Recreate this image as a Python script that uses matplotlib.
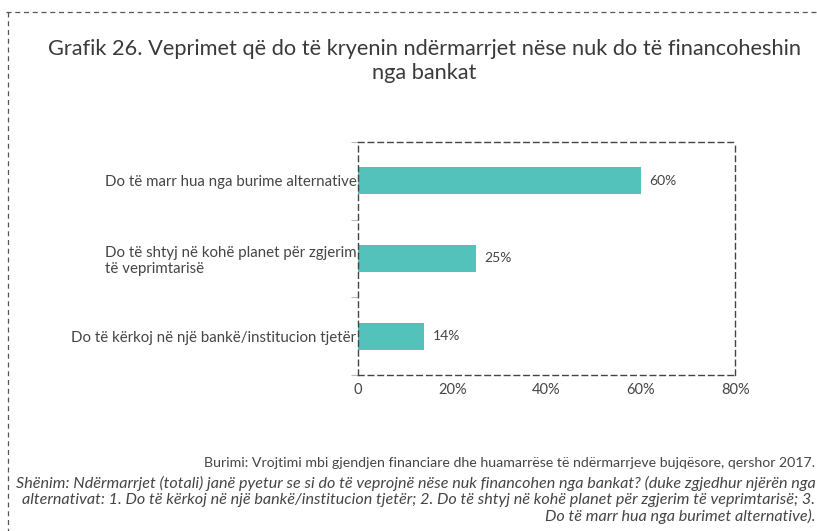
import matplotlib.pyplot as plt
from matplotlib.lines import Line2D

# data
categories = [
    "Do të kërkoj në një bankë/institucion tjetër",
    "Do të shtyj në kohë planet për zgjerim\ntë veprimtarisë",
    "Do të marr hua nga burime alternative",
]
values = [14, 25, 60]
xticks = [0, 20, 40, 60, 80]
xtick_labels = ["0", "20%", "40%", "60%", "80%"]

title = "Grafik 26. Veprimet që do të kryenin ndërmarrjet nëse nuk do të financoheshin\nnga bankat"
source = "Burimi: Vrojtimi mbi gjendjen financiare dhe huamarrëse të ndërmarrjeve bujqësore, qershor 2017."
note = ("Shënim: Ndërmarrjet (totali) janë pyetur se si do të veprojnë nëse nuk financohen nga bankat? (duke zgjedhur njërën nga\n"
        "alternativat: 1. Do të kërkoj në një bankë/institucion tjetër; 2. Do të shtyj në kohë planet për zgjerim të veprimtarisë; 3.\n"
        "Do të marr hua nga burimet alternative).")

txt = "#454545"
bar_color = "#52C2BA"
plt.rcParams['font.family'] = ['Lato', 'DejaVu Sans']

fig = plt.figure(figsize=(8.17, 5.31), dpi=100)
ax = fig.add_axes([0.438, 0.2938, 0.4618, 0.4388])

y = list(range(len(categories)))
bars = ax.barh(y, values, height=0.35, color=bar_color)
for b, v in zip(bars, values):
    ax.text(b.get_width() + 1.8, b.get_y() + b.get_height() / 2, f"{v}%",
            va='center', ha='left', fontsize=10, color=txt)

ax.set_xlim(0, 80)
ax.set_ylim(-0.5, len(categories) - 0.5)
ax.set_xticks(xticks)
ax.set_xticklabels(xtick_labels, fontsize=10.5, color=txt)
ax.set_yticks(y)
ax.set_yticklabels(categories, fontsize=10.8, color=txt, multialignment='left')
ax.set_yticks([i - 0.5 for i in range(len(categories) + 1)], minor=True)
ax.tick_params(axis='y', which='major', length=0, pad=1)
ax.tick_params(axis='y', which='minor', length=5, color='#bbbbbb', width=0.8)
ax.tick_params(axis='x', length=0, pad=6)

for s in ax.spines.values():
    s.set_linestyle((0, (4, 3)))
    s.set_color('#444444')
    s.set_linewidth(1)

# title and footer
fig.text(0.519, 0.885, title, ha='center', va='center', fontsize=15.7, color='#3a3a3a',
         linespacing=1.2)
fig.text(0.998, 0.128, source, ha='right', va='center', fontsize=10.2, color=txt)
fig.text(0.998, 0.058, note, ha='right', va='center', fontsize=11.6, color=txt,
         style='italic', multialignment='right', linespacing=1.15)

# outer dashed frame (top and left)
fig.add_artist(Line2D([0.007, 1.0], [0.977, 0.977], transform=fig.transFigure,
                      color='#555555', lw=0.9, linestyle=(0, (4, 3))))
fig.add_artist(Line2D([0.0098, 0.0098], [0.977, 0.0], transform=fig.transFigure,
                      color='#555555', lw=0.9, linestyle=(0, (4, 3))))

fig.savefig("out.png", dpi=100)
